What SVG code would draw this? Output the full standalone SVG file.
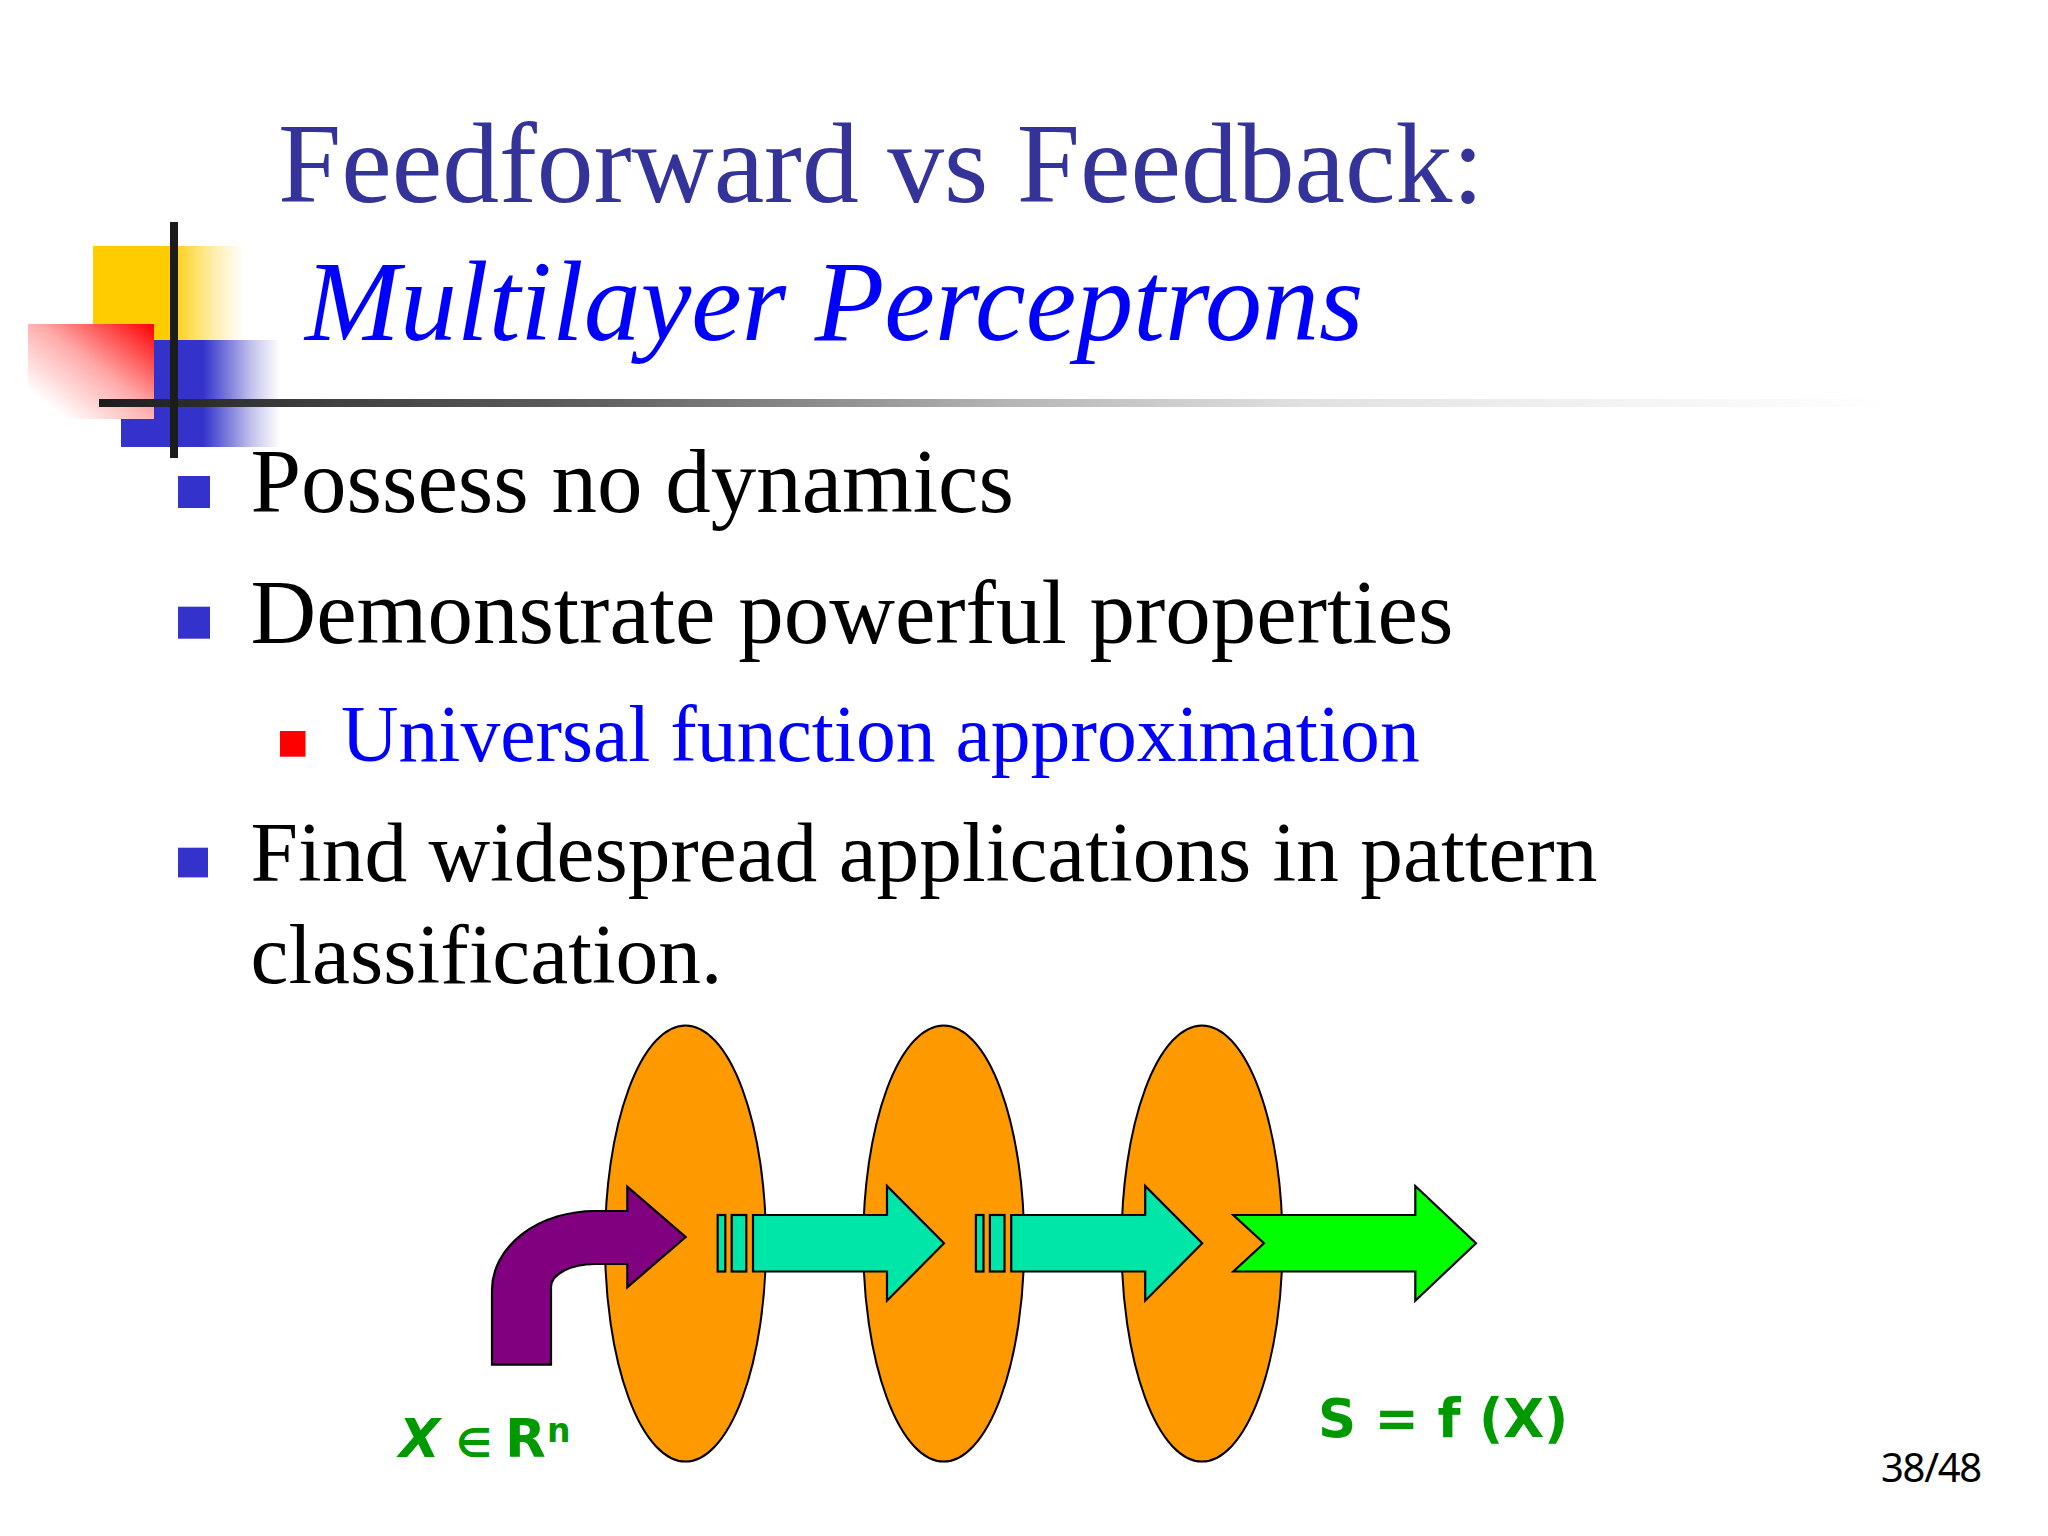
<svg xmlns="http://www.w3.org/2000/svg" width="2048" height="1536" viewBox="0 0 2048 1536">
<style>
.title{font-family:"Liberation Serif",serif;font-size:113.7px;fill:#333399}
.body{font-family:"Liberation Serif",serif;font-size:91px;fill:#000}
.body2{font-family:"Liberation Serif",serif;font-size:85.4px;fill:#000}
.sub{font-family:"Liberation Serif",serif;font-size:79.6px;fill:#0000ff}
.lab{font-family:"DejaVu Sans",sans-serif;font-weight:bold;fill:#009900;font-size:53px}
.layer{fill:#ff9900;stroke:#000;stroke-width:2}
.arr{stroke:#000;stroke-width:2.2;stroke-linejoin:miter}
.teal{fill:#00e6a8}
.bl{fill:#3333cc}
</style>
<defs>
<linearGradient id="gy" x1="0" x2="1" y1="0" y2="0"><stop offset="0.5" stop-color="#ffcc00"/><stop offset="0.8" stop-color="#ffeeb0"/><stop offset="1" stop-color="#fff"/></linearGradient>
<linearGradient id="gb" x1="0" x2="1" y1="0" y2="0"><stop offset="0.5" stop-color="#3333cc"/><stop offset="0.8" stop-color="#c4c4ec"/><stop offset="0.97" stop-color="#fff"/></linearGradient>
<linearGradient id="gr" x1="1" x2="0" y1="0" y2="1"><stop offset="0" stop-color="#ff0000"/><stop offset="0.45" stop-color="#ffa8a8"/><stop offset="0.85" stop-color="#fff"/></linearGradient>
<linearGradient id="gl" x1="0" x2="1" y1="0" y2="0"><stop offset="0" stop-color="#1c1c1c"/><stop offset="0.11" stop-color="#3c3c3c"/><stop offset="0.278" stop-color="#606060"/><stop offset="0.453" stop-color="#a0a0a0"/><stop offset="0.5" stop-color="#b4b4b4"/><stop offset="0.667" stop-color="#e0e0e0"/><stop offset="0.833" stop-color="#f2f2f2"/><stop offset="1" stop-color="#fff"/></linearGradient>
<polygon id="teal" class="arr teal" points="753,1215 887,1215 887,1186 944,1243.3 887,1300.7 887,1271.5 753,1271.5"/>
</defs>
<rect width="2048" height="1536" fill="#fff"/>
<g id="logo">
<rect x="93" y="246" width="152" height="94" fill="url(#gy)"/>
<rect x="121" y="340" width="164" height="107" fill="url(#gb)"/>
<rect x="28" y="324" width="126" height="95" fill="url(#gr)"/>
<rect x="99" y="399" width="1801" height="8" fill="url(#gl)"/>
<rect x="170" y="222" width="8" height="236" fill="#1c1c1c"/>
</g>
<g id="title">
<text class="title" x="278" y="202">Feedforward vs Feedback:</text>
<text class="title" x="305" y="340" font-style="italic" style="fill:#0000ff;font-size:114px">Multilayer Perceptrons</text>
</g>
<g id="bullets">
<rect class="bl" x="178" y="476" width="32" height="32"/>
<text class="body" x="250.5" y="512">Possess no dynamics</text>
<rect class="bl" x="178" y="606.7" width="32" height="32"/>
<text class="body" x="250.5" y="643">Demonstrate powerful properties</text>
<rect x="280" y="731" width="25.5" height="25.7" fill="#ff0000"/>
<text class="sub" x="341" y="761">Universal function approximation</text>
<rect class="bl" x="178" y="847.7" width="30" height="29.7"/>
<text class="body2" x="250.5" y="881">Find widespread applications in pattern</text>
<text class="body2" x="250.5" y="983">classification.</text>
</g>
<g id="layer1"><ellipse class="layer" cx="685.5" cy="1243.5" rx="80.5" ry="218"/></g>
<g id="layer2"><ellipse class="layer" cx="943.7" cy="1243.5" rx="80.5" ry="218"/></g>
<g id="layer3"><ellipse class="layer" cx="1202" cy="1243.5" rx="80.5" ry="218"/></g>
<g id="connectors">
<path id="input-arrow" class="arr" fill="#800080" d="M492 1364.7V1290A103 79 0 0 1 595 1211H627.3V1186.7L685.7 1237L627.3 1287.3V1264H595A44 23 0 0 0 551 1287V1364.7Z"/>
<g id="link1">
<rect class="arr teal" x="717.7" y="1215" width="7.6" height="56.5"/>
<rect class="arr teal" x="731.7" y="1215" width="14.6" height="56.5"/>
<use href="#teal"/>
</g>
<g id="link2" transform="translate(258.2 0)">
<rect class="arr teal" x="717.7" y="1215" width="7.6" height="56.5"/>
<rect class="arr teal" x="731.7" y="1215" width="14.6" height="56.5"/>
<use href="#teal"/>
</g>
<polygon id="output-arrow" class="arr" fill="#00ff00" points="1233.3,1215 1415.3,1215 1415.3,1186 1476,1243.3 1415.3,1300.7 1415.3,1271.5 1233.3,1271.5 1264,1243.3"/>
</g>
<g id="labels">
<text class="lab" y="1457"><tspan x="399" font-style="italic">X</tspan><tspan x="456" font-size="40">∈</tspan><tspan x="505">R</tspan><tspan x="547" y="1441.5" font-size="33">n</tspan></text>
<text class="lab" x="1318" y="1437" xml:space="preserve">S = f (X)</text>
<text x="1881" y="1482" font-family="'Noto Sans',sans-serif" font-size="40" letter-spacing="-1.3" fill="#000">38/48</text>
</g>
</svg>
